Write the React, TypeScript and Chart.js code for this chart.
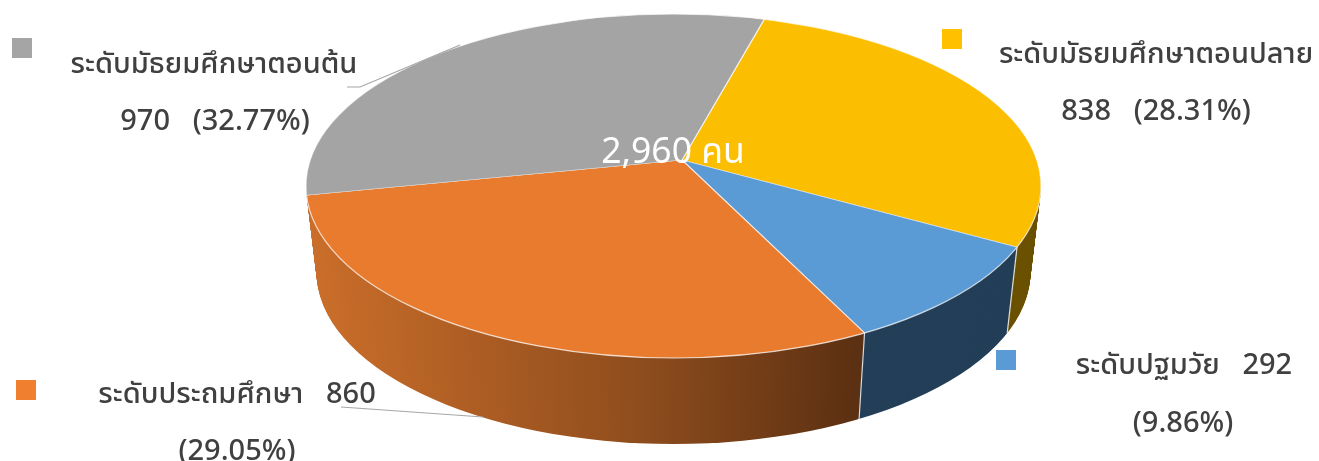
import React, { useEffect, useRef } from "react";
import { Chart, registerables } from "chart.js";

Chart.register(...registerables);

const categories = ["ระดับมัธยมศึกษาตอนปลาย", "ระดับปฐมวัย", "ระดับประถมศึกษา", "ระดับมัธยมศึกษาตอนต้น"];
const values = [838, 292, 860, 970];
const topColors = ["#FBBE00", "#5B9BD5", "#E97B2F", "#A4A4A4"];
const wallColors = ["#6B5200", "#243F58", "orange-gradient", "#666666"];
const legendColors = ["#FFC000", "#5B9BD5", "#F08030", "#A5A5A5"];
const labelLines = [
  ["ระดับมัธยมศึกษาตอนปลาย", "838   (28.31%)"],
  ["ระดับปฐมวัย   292", "(9.86%)"],
  ["ระดับประถมศึกษา   860", "(29.05%)"],
  ["ระดับมัธยมศึกษาตอนต้น", "970   (32.77%)"],
];
const totalLabel = "2,960 คน";

const W = 1319;
const H = 461;
const FONT = '"Noto Sans Thai", "Noto Sans", "Open Sans", sans-serif';

// geometry of the tilted pie
const TOP = { cx: 673.5, cy: 186, rx: 367.5, ry: 172 };
const BOTTOM = { cx: 673.5, cy: 272, rx: 357, ry: 172 };
const APEX_X_OFF = 8.5;
const APEX_Y = 160;
const TILT = 0.478;
const SHEAR = 0.012;
const BIG_R = 560;

const layer = (t: number) => ({
  cx: TOP.cx + (BOTTOM.cx - TOP.cx) * t,
  cy: TOP.cy + (BOTTOM.cy - TOP.cy) * t,
  rx: TOP.rx + (BOTTOM.rx - TOP.rx) * t,
  ry: TOP.ry + (BOTTOM.ry - TOP.ry) * t,
});

const apexOf = (t: number) => {
  const l = layer(t);
  return { x: l.cx + (APEX_X_OFF * l.rx) / TOP.rx, y: APEX_Y + (BOTTOM.cy - TOP.cy) * t, sx: l.rx / TOP.rx };
};

const rimPoint = (angle: number, t: number) => {
  const l = layer(t);
  const a = apexOf(t);
  const dx = Math.cos(angle) * a.sx;
  const dy = Math.sin(angle) * TILT + Math.cos(angle) * SHEAR;
  const px = (a.x - l.cx) / l.rx;
  const py = (a.y - l.cy) / l.ry;
  const qx = dx / l.rx;
  const qy = dy / l.ry;
  const A = qx * qx + qy * qy;
  const B = 2 * (px * qx + py * qy);
  const C = px * px + py * py - 1;
  const u = (-B + Math.sqrt(B * B - 4 * A * C)) / (2 * A);
  return { x: a.x + dx * u, y: a.y + dy * u };
};

const placeArcs = (ctx: CanvasRenderingContext2D, arc: any, t: number) => {
  const l = layer(t);
  const a = apexOf(t);
  const k = BIG_R / arc.outerRadius;
  ctx.beginPath();
  ctx.ellipse(l.cx, l.cy, l.rx, l.ry, 0, 0, Math.PI * 2);
  ctx.clip();
  ctx.translate(a.x, a.y);
  ctx.transform(k * a.sx, k * SHEAR, 0, k * TILT, 0, 0);
  ctx.translate(-arc.x, -arc.y);
};

const piePlugin = {
  id: "tiltedPie",
  beforeDatasetsDraw(chart: any) {
    const ctx: CanvasRenderingContext2D = chart.ctx;
    const arcs = chart.getDatasetMeta(0).data;
    const k = BIG_R / arcs[0].outerRadius;
    const toLocal = (X: number) => arcs[0].x + (X - TOP.cx - APEX_X_OFF) / k;
    const grad = ctx.createLinearGradient(toLocal(306), 0, toLocal(858), 0);
    grad.addColorStop(0, "#CB6E2A");
    grad.addColorStop(0.6, "#8F4D1D");
    grad.addColorStop(1, "#5C3012");
    const originals = arcs.map((a: any) => a.options);
    arcs.forEach((a: any, i: number) => {
      a.options = {
        ...originals[i],
        backgroundColor: wallColors[i] === "orange-gradient" ? grad : wallColors[i],
        borderColor: "rgba(0,0,0,0)",
        borderWidth: 0,
      };
    });
    const steps = 86;
    for (let s = steps; s >= 1; s--) {
      const t = s / steps;
      ctx.save();
      placeArcs(ctx, arcs[0], t);
      arcs.forEach((a: any) => a.draw(ctx));
      ctx.restore();
    }
    arcs.forEach((a: any, i: number) => {
      a.options = originals[i];
    });
    // wall separators
    ctx.save();
    ctx.strokeStyle = "rgba(235,235,235,0.9)";
    ctx.lineWidth = 1.2;
    arcs.forEach((a: any) => {
      const p0 = rimPoint(a.startAngle, 0);
      if (p0.y < 205) return;
      const p1 = rimPoint(a.startAngle, 1);
      ctx.beginPath();
      ctx.moveTo(p0.x, p0.y);
      ctx.lineTo(p1.x, p1.y);
      ctx.stroke();
    });
    ctx.restore();
    ctx.save();
    placeArcs(ctx, arcs[0], 0);
  },
  afterDatasetsDraw(chart: any) {
    const ctx: CanvasRenderingContext2D = chart.ctx;
    ctx.restore();
    // rim highlight
    ctx.save();
    ctx.strokeStyle = "rgba(255,255,255,0.75)";
    ctx.lineWidth = 1.2;
    ctx.beginPath();
    ctx.ellipse(TOP.cx, TOP.cy, TOP.rx, TOP.ry, 0, 0, Math.PI * 2);
    ctx.stroke();
    // leader lines
    ctx.strokeStyle = "#A6A6A6";
    ctx.lineWidth = 1.2;
    ctx.beginPath();
    ctx.moveTo(347, 87);
    ctx.lineTo(360, 87);
    ctx.lineTo(460, 45);
    ctx.moveTo(341, 407);
    ctx.lineTo(483, 417);
    ctx.stroke();
    // legend keys
    const keys = [
      [942, 29],
      [996, 350],
      [16, 380],
      [12, 38],
    ];
    keys.forEach((p, i) => {
      ctx.fillStyle = legendColors[i];
      ctx.fillRect(p[0], p[1], 20, 20);
    });
    // labels
    const spots = [
      [1156, 63, 1156, 120],
      [1184, 374, 1183, 432],
      [237, 403, 237, 460],
      [214, 73, 215, 130],
    ];
    ctx.textAlign = "center";
    ctx.textBaseline = "alphabetic";
    ctx.fillStyle = "#404040";
    ctx.font = `500 29px ${FONT}`;
    labelLines.forEach((ls, i) => {
      ctx.fillText(ls[0], spots[i][0], spots[i][1]);
      ctx.fillText(ls[1], spots[i][2], spots[i][3]);
    });
    ctx.fillStyle = "#FFFFFF";
    ctx.font = `400 35.5px ${FONT}`;
    ctx.fillText(totalLabel, 673, 163);
    ctx.restore();
  },
};

export default function App() {
  const ref = useRef<HTMLCanvasElement>(null);
  useEffect(() => {
    document.body.style.margin = "0";
    const chart = new Chart(ref.current as HTMLCanvasElement, {
      type: "pie",
      data: {
        labels: categories,
        datasets: [
          {
            data: values,
            backgroundColor: topColors,
            borderColor: "rgba(255,255,255,0.75)",
            borderWidth: 0.55,
            clip: false,
          } as any,
        ],
      },
      options: {
        responsive: false,
        animation: false,
        rotation: 15.5,
        layout: { padding: 0 },
        plugins: { legend: { display: false }, tooltip: { enabled: false } },
      },
      plugins: [piePlugin],
    });
    return () => chart.destroy();
  }, []);
  return (
    <div style={{ position: "fixed", left: 0, top: 0, width: W, height: H, background: "#fff" }}>
      <canvas ref={ref} width={W} height={H} style={{ display: "block" }} />
    </div>
  );
}
